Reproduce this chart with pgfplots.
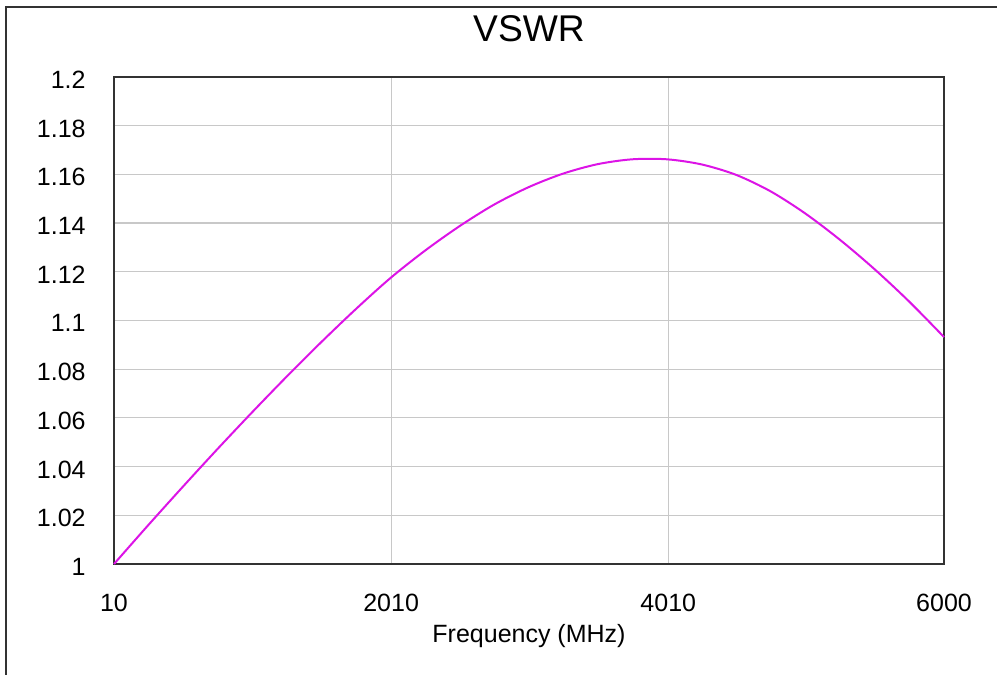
\documentclass[border=0pt]{standalone}
\usepackage{pgfplots}
\pgfplotsset{compat=1.18}
\usepackage{fontspec}
\setmainfont{Liberation Sans}
\definecolor{curve}{RGB}{220,20,230}
\definecolor{gridc}{RGB}{200,200,200}
\definecolor{framec}{RGB}{50,50,50}
\begin{document}
\begin{tikzpicture}
\useasboundingbox (0,0) rectangle (498.5pt,337.5pt);
\draw[framec, line width=1pt] (3pt,0) -- (3pt,334pt) -- (498.5pt,334pt);
\begin{axis}[
  at={(57pt,55.5pt)}, anchor=south west,
  scale only axis, width=415pt, height=243.5pt,
  xmin=10, xmax=6000, ymin=1, ymax=1.2,
  xtick={10,2010,4010,6000},
  ytick={1,1.02,1.04,1.06,1.08,1.1,1.12,1.14,1.16,1.18,1.2},
  yticklabels={1,1.02,1.04,1.06,1.08,1.1,1.12,1.14,1.16,1.18,1.2},
  xticklabels={10,2010,4010,6000},
  major tick length=0pt,
  grid=major,
  major grid style={gridc, line width=0.6pt},
  axis line style={framec, line width=0.8pt},
  tick label style={font=\fontsize{12.5pt}{14pt}\selectfont, inner sep=0pt},
  xticklabel style={anchor=base, yshift=-23.8pt},
  yticklabel style={anchor=base east, xshift=-14pt, yshift=-5.75pt},
  /pgf/number format/assume math mode=true,
  title={VSWR},
  title style={font=\fontsize{18.6pt}{22pt}\selectfont, at={(axis description cs:0.5,1)}, anchor=base, inner sep=0pt, yshift=11.8pt},
  xlabel={Frequency (MHz)},
  xlabel style={font=\fontsize{12.5pt}{14pt}\selectfont, at={(axis description cs:0.5,0)}, anchor=base, inner sep=0pt, yshift=-39.5pt},
  clip=false,
]
\addplot[curve, line width=1pt, smooth, tension=0.5] table {
x y
10 1.0000
250 1.0155
500 1.0313
750 1.0468
1000 1.0619
1250 1.0766
1500 1.0908
1750 1.1044
2000 1.1172
2250 1.1285
2500 1.1386
2750 1.1475
3000 1.1547
3250 1.1603
3500 1.1642
3750 1.1662
4000 1.1662
4250 1.1641
4500 1.1598
4750 1.1530
5000 1.1439
5250 1.1331
5500 1.1210
5750 1.1077
6000 1.0932
};
\end{axis}
\end{tikzpicture}
\end{document}
